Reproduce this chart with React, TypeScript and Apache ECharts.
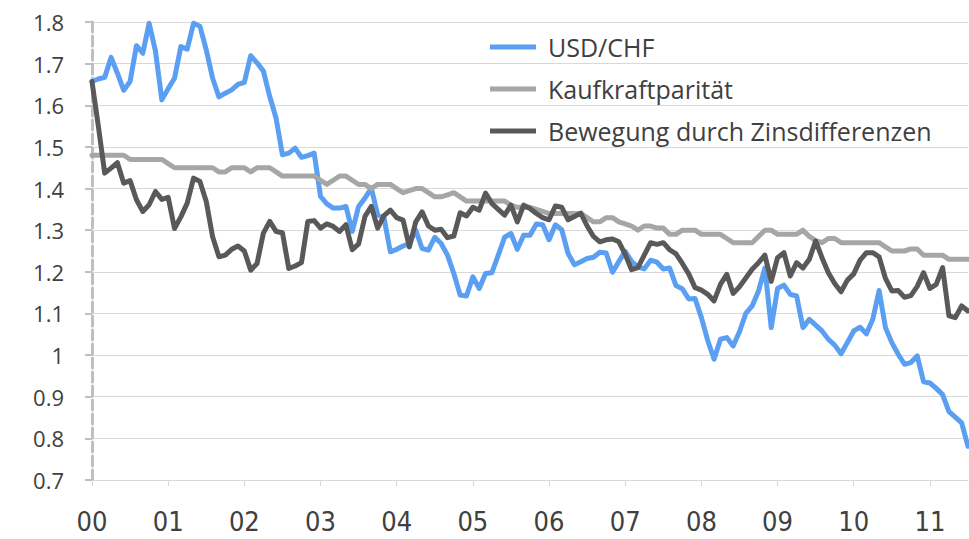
import React, { useEffect, useRef } from "react";
import * as echarts from "echarts";

const yearLabels = ["00", "01", "02", "03", "04", "05", "06", "07", "08", "09", "10", "11"];
const monthLabels = ["01", "02", "03", "04", "05", "06", "07", "08", "09", "10", "11", "12"];
const lastMonthCount = 7; // data runs to July 2011

const seriesNames = ["USD/CHF", "Kaufkraftparität", "Bewegung durch Zinsdifferenzen"];

const usdChf = [
  1.657, 1.663, 1.667, 1.715, 1.677, 1.636, 1.657, 1.743, 1.725, 1.797, 1.73, 1.613,
  1.64, 1.665, 1.741, 1.735, 1.797, 1.79, 1.733, 1.665, 1.62, 1.629, 1.637, 1.65,
  1.655, 1.719, 1.702, 1.682, 1.621, 1.569, 1.481, 1.485, 1.497, 1.475, 1.479, 1.485,
  1.381, 1.363, 1.353, 1.353, 1.357, 1.297, 1.357, 1.377, 1.401, 1.337, 1.33, 1.248,
  1.254, 1.262, 1.268, 1.3, 1.256, 1.252, 1.283, 1.268, 1.24, 1.196, 1.144, 1.142,
  1.188, 1.16, 1.196, 1.198, 1.24, 1.283, 1.292, 1.254, 1.288, 1.288, 1.315, 1.313,
  1.277, 1.313, 1.301, 1.244, 1.217, 1.224, 1.232, 1.235, 1.247, 1.245, 1.199, 1.225,
  1.249, 1.225, 1.212, 1.207, 1.228, 1.223, 1.207, 1.209, 1.167, 1.159, 1.135, 1.136,
  1.09, 1.035, 0.99, 1.038, 1.042, 1.022, 1.056, 1.1, 1.118, 1.154, 1.209, 1.066,
  1.16, 1.168, 1.146, 1.142, 1.066, 1.086, 1.072, 1.058, 1.038, 1.024, 1.003, 1.03,
  1.058, 1.067, 1.051, 1.086, 1.155, 1.066, 1.03, 1.002, 0.978, 0.982, 0.998, 0.936,
  0.933, 0.92, 0.905, 0.864, 0.851, 0.837, 0.781,
];

const kaufkraft = [
  1.48, 1.48, 1.48, 1.48, 1.48, 1.48, 1.47, 1.47, 1.47, 1.47, 1.47, 1.47,
  1.46, 1.45, 1.45, 1.45, 1.45, 1.45, 1.45, 1.45, 1.44, 1.44, 1.45, 1.45,
  1.45, 1.44, 1.45, 1.45, 1.45, 1.44, 1.43, 1.43, 1.43, 1.43, 1.43, 1.43,
  1.42, 1.41, 1.42, 1.43, 1.43, 1.42, 1.41, 1.41, 1.4, 1.41, 1.41, 1.41,
  1.4, 1.39, 1.395, 1.4, 1.4, 1.39, 1.38, 1.38, 1.385, 1.39, 1.38, 1.37,
  1.37, 1.37, 1.37, 1.37, 1.37, 1.37, 1.36, 1.355, 1.355, 1.355, 1.35, 1.345,
  1.34, 1.34, 1.34, 1.34, 1.34, 1.34, 1.33, 1.32, 1.32, 1.33, 1.33, 1.32,
  1.315, 1.31, 1.3, 1.31, 1.31, 1.305, 1.305, 1.29, 1.29, 1.3, 1.3, 1.3,
  1.29, 1.29, 1.29, 1.29, 1.28, 1.27, 1.27, 1.27, 1.27, 1.285, 1.3, 1.3,
  1.29, 1.29, 1.29, 1.29, 1.3, 1.285, 1.275, 1.27, 1.28, 1.28, 1.27, 1.27,
  1.27, 1.27, 1.27, 1.27, 1.27, 1.26, 1.25, 1.25, 1.25, 1.255, 1.255, 1.24,
  1.24, 1.24, 1.24, 1.23, 1.23, 1.23, 1.23,
];

const zinsdiff = [
  1.657, 1.55, 1.437, 1.449, 1.462, 1.413, 1.419, 1.373, 1.345, 1.361, 1.393, 1.374,
  1.379, 1.304, 1.332, 1.365, 1.425, 1.417, 1.369, 1.284, 1.236, 1.24, 1.254, 1.262,
  1.25, 1.204, 1.22, 1.293, 1.321, 1.297, 1.294, 1.208, 1.214, 1.222, 1.321, 1.323,
  1.305, 1.315, 1.309, 1.297, 1.313, 1.253, 1.267, 1.333, 1.357, 1.305, 1.335, 1.348,
  1.33, 1.324, 1.26, 1.32, 1.344, 1.31, 1.3, 1.302, 1.282, 1.286, 1.342, 1.334,
  1.355, 1.348, 1.389, 1.364, 1.35, 1.336, 1.36, 1.32, 1.36, 1.352, 1.34, 1.33,
  1.325, 1.358, 1.355, 1.325, 1.333, 1.341, 1.31, 1.285, 1.272, 1.277, 1.279, 1.272,
  1.242, 1.205, 1.21, 1.24, 1.27, 1.266, 1.27, 1.253, 1.243, 1.22, 1.195, 1.162,
  1.156, 1.146, 1.13, 1.17, 1.194, 1.148, 1.164, 1.185, 1.206, 1.222, 1.24, 1.177,
  1.234, 1.246, 1.19, 1.222, 1.209, 1.23, 1.274, 1.234, 1.198, 1.172, 1.152, 1.18,
  1.195, 1.228, 1.246, 1.246, 1.236, 1.184, 1.154, 1.155, 1.139, 1.143, 1.165, 1.198,
  1.16, 1.17, 1.21, 1.094, 1.09, 1.118, 1.106,
];

const colors = ["#5B9FF2", "#A6A6A6", "#595959"];

export default function App() {
  const ref = useRef<HTMLDivElement>(null);

  useEffect(() => {
    if (!ref.current) return;
    const chart = echarts.init(ref.current, undefined, { renderer: "svg" });

    const categories: string[] = [];
    yearLabels.forEach((y, yi) => {
      monthLabels.forEach((m, mi) => {
        if (yi < yearLabels.length - 1 || mi < lastMonthCount) categories.push(`${y}/${m}`);
      });
    });

    const values = [usdChf, kaufkraft, zinsdiff];

    chart.setOption({
      animation: false,
      backgroundColor: "#ffffff",
      grid: { left: 92, right: 1, top: 22, bottom: 59, containLabel: false },
      legend: {
        show: true,
        orient: "vertical",
        left: 490,
        top: 32,
        padding: 0,
        icon: "rect",
        itemWidth: 46,
        itemHeight: 5,
        itemGap: 12,
        data: seriesNames,
        textStyle: {
          fontFamily: "'Open Sans', 'Liberation Sans', sans-serif",
          fontSize: 25,
          color: "#404040",
          lineHeight: 30,
          padding: [0, 0, 0, 7],
        },
      },
      xAxis: {
        type: "category",
        data: categories,
        boundaryGap: false,
        axisLine: { show: true, lineStyle: { color: "#D9D9D9", width: 1 } },
        axisTick: {
          show: true,
          interval: 11,
          length: 6,
          lineStyle: { color: "#D9D9D9", width: 1 },
        },
        axisLabel: {
          interval: 11,
          margin: 28,
          fontFamily: "'Liberation Sans Narrow', 'DejaVu Sans Condensed', sans-serif",
          fontSize: 27,
          color: "#404040",
          formatter: (v: string) => v.split("/")[0],
        },
        splitLine: { show: false },
      },
      yAxis: {
        type: "value",
        min: 0.7,
        max: 1.8,
        interval: 0.1,
        axisLine: {
          show: true,
          lineStyle: { color: "#BFBFBF", width: 3, type: [10, 4] },
        },
        axisTick: { show: true, length: 7, lineStyle: { color: "#BFBFBF", width: 2 } },
        axisLabel: {
          margin: 28,
          fontFamily: "'Open Sans', 'Liberation Sans', sans-serif",
          fontSize: 22,
          color: "#404040",
          formatter: (v: number) => String(Math.round(v * 10) / 10),
        },
        splitLine: { show: true, lineStyle: { color: "#D9D9D9", width: 1 } },
      },
      series: seriesNames.map((name, i) => ({
        name,
        type: "line",
        data: values[i],
        showSymbol: false,
        symbol: "none",
        lineStyle: { color: colors[i], width: 5, cap: "round", join: "round" },
        itemStyle: { color: colors[i] },
        z: 2 + i,
      })),
    });

    return () => chart.dispose();
  }, []);

  return (
    <div
      ref={ref}
      style={{ position: "fixed", left: 0, top: 0, width: 969, height: 539, background: "#fff" }}
    />
  );
}
